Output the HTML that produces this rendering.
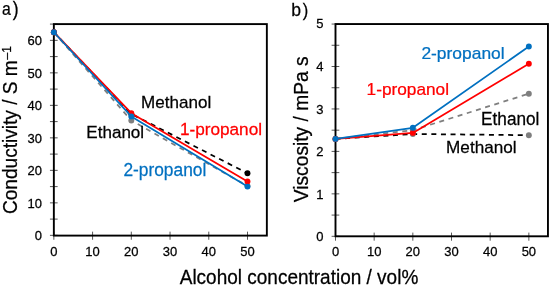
<!DOCTYPE html>
<html><head><meta charset="utf-8"><style>
html,body{margin:0;padding:0;background:#fff;}
body{width:550px;height:285px;overflow:hidden;}
svg{display:block;will-change:transform;}
text{font-family:"Liberation Sans", sans-serif;stroke:currentColor;stroke-width:0.25px;}
</style></head><body>
<svg width="550" height="285" viewBox="0 0 550 285">
<rect width="550" height="285" fill="#fff"/>
<line x1="49.95" y1="235.35" x2="57.65" y2="235.35" stroke="#3a3a3a" stroke-width="0.85"/>
<line x1="49.95" y1="219.10" x2="57.65" y2="219.10" stroke="#3a3a3a" stroke-width="0.85"/>
<line x1="49.95" y1="202.85" x2="57.65" y2="202.85" stroke="#3a3a3a" stroke-width="0.85"/>
<line x1="49.95" y1="186.60" x2="57.65" y2="186.60" stroke="#3a3a3a" stroke-width="0.85"/>
<line x1="49.95" y1="170.35" x2="57.65" y2="170.35" stroke="#3a3a3a" stroke-width="0.85"/>
<line x1="49.95" y1="154.10" x2="57.65" y2="154.10" stroke="#3a3a3a" stroke-width="0.85"/>
<line x1="49.95" y1="137.85" x2="57.65" y2="137.85" stroke="#3a3a3a" stroke-width="0.85"/>
<line x1="49.95" y1="121.60" x2="57.65" y2="121.60" stroke="#3a3a3a" stroke-width="0.85"/>
<line x1="49.95" y1="105.35" x2="57.65" y2="105.35" stroke="#3a3a3a" stroke-width="0.85"/>
<line x1="49.95" y1="89.10" x2="57.65" y2="89.10" stroke="#3a3a3a" stroke-width="0.85"/>
<line x1="49.95" y1="72.85" x2="57.65" y2="72.85" stroke="#3a3a3a" stroke-width="0.85"/>
<line x1="49.95" y1="56.60" x2="57.65" y2="56.60" stroke="#3a3a3a" stroke-width="0.85"/>
<line x1="49.95" y1="40.35" x2="57.65" y2="40.35" stroke="#3a3a3a" stroke-width="0.85"/>
<line x1="49.95" y1="24.10" x2="57.65" y2="24.10" stroke="#3a3a3a" stroke-width="0.85"/>
<line x1="53.85" y1="231.65" x2="53.85" y2="239.75" stroke="#3a3a3a" stroke-width="0.85"/>
<line x1="92.58" y1="231.65" x2="92.58" y2="239.75" stroke="#3a3a3a" stroke-width="0.85"/>
<line x1="131.31" y1="231.65" x2="131.31" y2="239.75" stroke="#3a3a3a" stroke-width="0.85"/>
<line x1="170.04" y1="231.65" x2="170.04" y2="239.75" stroke="#3a3a3a" stroke-width="0.85"/>
<line x1="208.77" y1="231.65" x2="208.77" y2="239.75" stroke="#3a3a3a" stroke-width="0.85"/>
<line x1="247.50" y1="231.65" x2="247.50" y2="239.75" stroke="#3a3a3a" stroke-width="0.85"/>
<line x1="331.60" y1="236.30" x2="339.30" y2="236.30" stroke="#3a3a3a" stroke-width="0.85"/>
<line x1="331.60" y1="215.08" x2="339.30" y2="215.08" stroke="#3a3a3a" stroke-width="0.85"/>
<line x1="331.60" y1="193.85" x2="339.30" y2="193.85" stroke="#3a3a3a" stroke-width="0.85"/>
<line x1="331.60" y1="172.62" x2="339.30" y2="172.62" stroke="#3a3a3a" stroke-width="0.85"/>
<line x1="331.60" y1="151.40" x2="339.30" y2="151.40" stroke="#3a3a3a" stroke-width="0.85"/>
<line x1="331.60" y1="130.18" x2="339.30" y2="130.18" stroke="#3a3a3a" stroke-width="0.85"/>
<line x1="331.60" y1="108.95" x2="339.30" y2="108.95" stroke="#3a3a3a" stroke-width="0.85"/>
<line x1="331.60" y1="87.72" x2="339.30" y2="87.72" stroke="#3a3a3a" stroke-width="0.85"/>
<line x1="331.60" y1="66.50" x2="339.30" y2="66.50" stroke="#3a3a3a" stroke-width="0.85"/>
<line x1="331.60" y1="45.28" x2="339.30" y2="45.28" stroke="#3a3a3a" stroke-width="0.85"/>
<line x1="331.60" y1="24.05" x2="339.30" y2="24.05" stroke="#3a3a3a" stroke-width="0.85"/>
<line x1="335.50" y1="232.60" x2="335.50" y2="240.70" stroke="#3a3a3a" stroke-width="0.85"/>
<line x1="374.17" y1="232.60" x2="374.17" y2="240.70" stroke="#3a3a3a" stroke-width="0.85"/>
<line x1="412.84" y1="232.60" x2="412.84" y2="240.70" stroke="#3a3a3a" stroke-width="0.85"/>
<line x1="451.51" y1="232.60" x2="451.51" y2="240.70" stroke="#3a3a3a" stroke-width="0.85"/>
<line x1="490.18" y1="232.60" x2="490.18" y2="240.70" stroke="#3a3a3a" stroke-width="0.85"/>
<line x1="528.85" y1="232.60" x2="528.85" y2="240.70" stroke="#3a3a3a" stroke-width="0.85"/>
<rect x="53.85" y="24.10" width="213.00" height="211.50" fill="none" stroke="#000" stroke-width="1.9"/>
<rect x="335.50" y="24.05" width="212.45" height="212.25" fill="none" stroke="#000" stroke-width="1.9"/>
<polyline points="53.85,32.22 131.31,113.96 247.50,173.27" fill="none" stroke="#000000" stroke-width="1.75" stroke-dasharray="5.0 4.6" stroke-linejoin="round"/>
<circle cx="53.85" cy="32.22" r="2.95" fill="#000000"/>
<circle cx="131.31" cy="113.96" r="2.95" fill="#000000"/>
<circle cx="247.50" cy="173.27" r="2.95" fill="#000000"/>
<polyline points="53.85,32.22 131.31,120.46 247.50,185.95" fill="none" stroke="#7F7F7F" stroke-width="1.75" stroke-dasharray="5.0 4.6" stroke-linejoin="round"/>
<circle cx="53.85" cy="32.22" r="2.95" fill="#7F7F7F"/>
<circle cx="131.31" cy="120.46" r="2.95" fill="#7F7F7F"/>
<circle cx="247.50" cy="185.95" r="2.95" fill="#7F7F7F"/>
<polyline points="53.85,32.22 131.31,113.15 247.50,181.40" fill="none" stroke="#FF0000" stroke-width="1.75" stroke-linejoin="round"/>
<circle cx="53.85" cy="32.22" r="2.95" fill="#FF0000"/>
<circle cx="131.31" cy="113.15" r="2.95" fill="#FF0000"/>
<circle cx="247.50" cy="181.40" r="2.95" fill="#FF0000"/>
<polyline points="53.85,32.22 131.31,116.40 247.50,186.60" fill="none" stroke="#0070C0" stroke-width="1.75" stroke-linejoin="round"/>
<circle cx="53.85" cy="32.22" r="2.95" fill="#0070C0"/>
<circle cx="131.31" cy="116.40" r="2.95" fill="#0070C0"/>
<circle cx="247.50" cy="186.60" r="2.95" fill="#0070C0"/>
<polyline points="335.50,138.88 412.84,134.00 528.85,135.18" fill="none" stroke="#000000" stroke-width="1.75" stroke-dasharray="5.0 4.6" stroke-linejoin="round"/>
<circle cx="335.50" cy="138.88" r="2.95" fill="#7F7F7F"/>
<circle cx="412.84" cy="134.00" r="2.95" fill="#7F7F7F"/>
<circle cx="528.85" cy="135.18" r="2.95" fill="#7F7F7F"/>
<polyline points="335.50,138.88 412.84,130.18 528.85,93.71" fill="none" stroke="#7F7F7F" stroke-width="1.75" stroke-dasharray="5.0 4.6" stroke-linejoin="round"/>
<circle cx="335.50" cy="138.88" r="2.95" fill="#7F7F7F"/>
<circle cx="412.84" cy="130.18" r="2.95" fill="#7F7F7F"/>
<circle cx="528.85" cy="93.71" r="2.95" fill="#7F7F7F"/>
<polyline points="335.50,138.88 412.84,132.89 528.85,63.78" fill="none" stroke="#FF0000" stroke-width="1.75" stroke-linejoin="round"/>
<circle cx="335.50" cy="138.88" r="2.95" fill="#FF0000"/>
<circle cx="412.84" cy="132.89" r="2.95" fill="#FF0000"/>
<circle cx="528.85" cy="63.78" r="2.95" fill="#FF0000"/>
<polyline points="335.50,138.88 412.84,127.80 528.85,46.51" fill="none" stroke="#0070C0" stroke-width="1.75" stroke-linejoin="round"/>
<circle cx="335.50" cy="138.88" r="2.95" fill="#0070C0"/>
<circle cx="412.84" cy="127.80" r="2.95" fill="#0070C0"/>
<circle cx="528.85" cy="46.51" r="2.95" fill="#0070C0"/>
<text transform="translate(42.00,240.30) scale(1,1.05)" font-size="13" fill="#000" color="#000" text-anchor="end">0</text>
<text transform="translate(42.00,207.80) scale(1,1.05)" font-size="13" fill="#000" color="#000" text-anchor="end">10</text>
<text transform="translate(42.00,175.30) scale(1,1.05)" font-size="13" fill="#000" color="#000" text-anchor="end">20</text>
<text transform="translate(42.00,142.80) scale(1,1.05)" font-size="13" fill="#000" color="#000" text-anchor="end">30</text>
<text transform="translate(42.00,110.30) scale(1,1.05)" font-size="13" fill="#000" color="#000" text-anchor="end">40</text>
<text transform="translate(42.00,77.80) scale(1,1.05)" font-size="13" fill="#000" color="#000" text-anchor="end">50</text>
<text transform="translate(42.00,45.30) scale(1,1.05)" font-size="13" fill="#000" color="#000" text-anchor="end">60</text>
<text transform="translate(53.85,255.7) scale(1,1.05)" font-size="13" fill="#000" color="#000" text-anchor="middle">0</text>
<text transform="translate(92.58,255.7) scale(1,1.05)" font-size="13" fill="#000" color="#000" text-anchor="middle">10</text>
<text transform="translate(131.31,255.7) scale(1,1.05)" font-size="13" fill="#000" color="#000" text-anchor="middle">20</text>
<text transform="translate(170.04,255.7) scale(1,1.05)" font-size="13" fill="#000" color="#000" text-anchor="middle">30</text>
<text transform="translate(208.77,255.7) scale(1,1.05)" font-size="13" fill="#000" color="#000" text-anchor="middle">40</text>
<text transform="translate(247.50,255.7) scale(1,1.05)" font-size="13" fill="#000" color="#000" text-anchor="middle">50</text>
<text transform="translate(323.50,241.25) scale(1,1.05)" font-size="13" fill="#000" color="#000" text-anchor="end">0</text>
<text transform="translate(323.50,198.80) scale(1,1.05)" font-size="13" fill="#000" color="#000" text-anchor="end">1</text>
<text transform="translate(323.50,156.35) scale(1,1.05)" font-size="13" fill="#000" color="#000" text-anchor="end">2</text>
<text transform="translate(323.50,113.90) scale(1,1.05)" font-size="13" fill="#000" color="#000" text-anchor="end">3</text>
<text transform="translate(323.50,71.45) scale(1,1.05)" font-size="13" fill="#000" color="#000" text-anchor="end">4</text>
<text transform="translate(323.50,28.00) scale(1,1.05)" font-size="13" fill="#000" color="#000" text-anchor="end">5</text>
<text transform="translate(335.50,256.3) scale(1,1.05)" font-size="13" fill="#000" color="#000" text-anchor="middle">0</text>
<text transform="translate(374.17,256.3) scale(1,1.05)" font-size="13" fill="#000" color="#000" text-anchor="middle">10</text>
<text transform="translate(412.84,256.3) scale(1,1.05)" font-size="13" fill="#000" color="#000" text-anchor="middle">20</text>
<text transform="translate(451.51,256.3) scale(1,1.05)" font-size="13" fill="#000" color="#000" text-anchor="middle">30</text>
<text transform="translate(490.18,256.3) scale(1,1.05)" font-size="13" fill="#000" color="#000" text-anchor="middle">40</text>
<text transform="translate(528.85,256.3) scale(1,1.05)" font-size="13" fill="#000" color="#000" text-anchor="middle">50</text>
<text transform="translate(2.1,15.2) scale(0.8316,0.9316)" font-size="19">a</text>
<text transform="translate(12.8,16.1) scale(0.9211,1.0316)" font-size="19">)</text>
<text transform="translate(291.2,16.0) scale(0.9263,1.0032)" font-size="19">b</text>
<text transform="translate(302.8,16.0) scale(0.8684,1.0105)" font-size="19">)</text>
<text transform="translate(299,283.7) scale(1,1.045)" font-size="19" fill="#000" color="#000" text-anchor="middle">Alcohol concentration / vol%</text>
<text transform="translate(16.9,214.1) rotate(-90) scale(1,1.02)" font-size="19.1">Conductivity / S m<tspan dx="0.8" dy="-6.2" font-size="12">–1</tspan></text>
<text transform="translate(307.8,202.2) rotate(-90) scale(1.0,1.1)" font-size="19.2">Viscosity / mPa s</text>
<text transform="translate(141.1,107.7) scale(1,1.01)" font-size="17.05" fill="#000" color="#000" text-anchor="start">Methanol</text>
<text transform="translate(179.9,135.0) scale(1,1.01)" font-size="17.2" fill="#FF0000" color="#FF0000" text-anchor="start">1-propanol</text>
<text transform="translate(86.3,137.5) scale(1,1.01)" font-size="17.07" fill="#000" color="#000" text-anchor="start">Ethanol</text>
<text transform="translate(123.4,176.3) scale(1,1.01)" font-size="17.35" fill="#0070C0" color="#0070C0" text-anchor="start">2-propanol</text>
<text transform="translate(421.4,58.8) scale(1,0.975)" font-size="17.42" fill="#0070C0" color="#0070C0" text-anchor="start">2-propanol</text>
<text transform="translate(366.6,94.9) scale(1,0.995)" font-size="17.25" fill="#FF0000" color="#FF0000" text-anchor="start">1-propanol</text>
<text transform="translate(481.1,124.9) scale(1,1.03)" font-size="17.2" fill="#000" color="#000" text-anchor="start">Ethanol</text>
<text transform="translate(446.1,152.7) scale(1,1.01)" font-size="17.15" fill="#000" color="#000" text-anchor="start">Methanol</text>
</svg>
</body></html>
